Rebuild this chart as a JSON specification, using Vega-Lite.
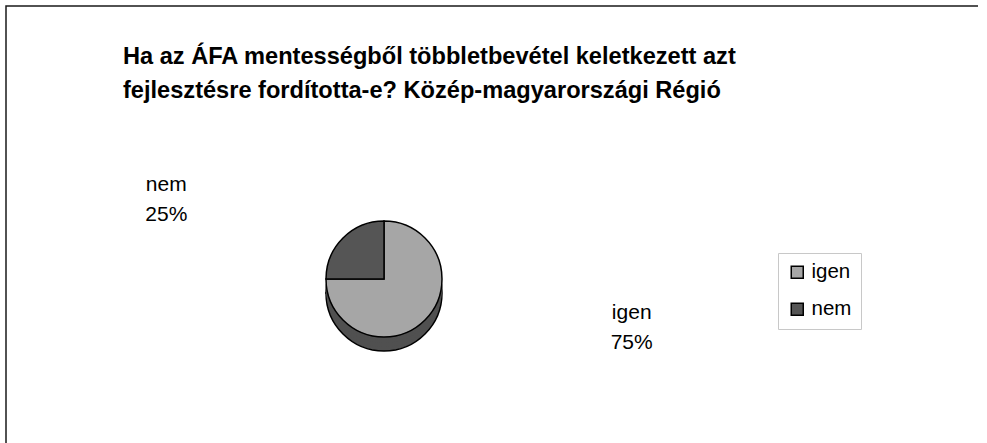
{
  "$schema": "https://vega.github.io/schema/vega-lite/v6.json",
  "autosize": {"type": "pad"},
  "padding": {"left": 5, "top": 5, "right": 10, "bottom": -108},
  "background": "white",
  "title": {
    "text": ["Ha az ÁFA mentességből többletbevétel keletkezett azt", "fejlesztésre fordította-e? Közép-magyarországi Régió"],
    "anchor": "start",
    "frame": "group",
    "align": "left",
    "dx": 117,
    "dy": 97,
    "offset": 0,
    "font": "Liberation Sans",
    "fontSize": 23.6,
    "fontWeight": "bold",
    "lineHeight": 34,
    "color": "#000000"
  },
  "data": {
    "values": [
      {"answer": "igen", "pct": 75, "label": ["igen", "75%"]},
      {"answer": "nem", "pct": 25, "label": ["nem", "25%"]}
    ]
  },
  "spacing": 0,
  "bounds": "flush",
  "hconcat": [
    {
      "width": 756,
      "height": 546,
      "view": {"stroke": "#1a1a1a", "strokeWidth": 1.5, "strokeDash": [756, 1302, 546], "fill": null},
      "layer": [
        {
          "mark": {"type": "arc", "radius": 58, "yOffset": 14, "fill": "#505050", "stroke": "#000000", "strokeWidth": 1.5},
          "encoding": {"theta": {"field": "pct", "type": "quantitative", "stack": true}}
        },
        {
          "mark": {"type": "arc", "radius": 58, "yOffset": 10, "fill": "#505050"},
          "encoding": {"theta": {"field": "pct", "type": "quantitative", "stack": true}}
        },
        {
          "mark": {"type": "arc", "radius": 58, "yOffset": 6, "fill": "#505050"},
          "encoding": {"theta": {"field": "pct", "type": "quantitative", "stack": true}}
        },
        {
          "mark": {"type": "arc", "radius": 58, "yOffset": 3, "fill": "#505050"},
          "encoding": {"theta": {"field": "pct", "type": "quantitative", "stack": true}}
        },
        {
          "mark": {"type": "arc", "radius": 58, "stroke": "#000000", "strokeWidth": 1.5},
          "encoding": {
            "theta": {"field": "pct", "type": "quantitative", "stack": true},
            "color": {
              "field": "answer",
              "type": "nominal",
              "scale": {"domain": ["igen", "nem"], "range": ["#a6a6a6", "#555555"]},
              "legend": {
                "orient": "none",
                "legendX": 772,
                "legendY": 247,
                "title": null,
                "strokeColor": "#c8c8c8",
                "fillColor": "#ffffff",
                "padding": 9,
                "symbolType": "square",
                "symbolSize": 144,
                "symbolStrokeColor": "#000000",
                "symbolStrokeWidth": 1.5,
                "labelFont": "Liberation Sans",
                "labelFontSize": 20.5,
                "labelColor": "#000000",
                "labelOffset": 4,
                "rowPadding": 16
              }
            }
          }
        },
        {
          "mark": {"type": "text", "radius": 100, "dx": -147, "dy": -23, "font": "Liberation Sans", "fontSize": 21, "lineHeight": 30, "color": "#000000", "baseline": "middle", "align": "center"},
          "encoding": {
            "theta": {"field": "pct", "type": "quantitative", "stack": true},
            "text": {"condition": {"test": "datum.answer === 'nem'", "field": "label"}, "value": ""}
          }
        },
        {
          "mark": {"type": "text", "radius": 100, "dx": 177, "dy": -37, "font": "Liberation Sans", "fontSize": 21, "lineHeight": 30, "color": "#000000", "baseline": "middle", "align": "center"},
          "encoding": {
            "theta": {"field": "pct", "type": "quantitative", "stack": true},
            "text": {"condition": {"test": "datum.answer === 'igen'", "field": "label"}, "value": ""}
          }
        }
      ]
    },
    {
      "width": 216,
      "height": 546,
      "view": {"stroke": "#1a1a1a", "strokeWidth": 1.5, "strokeDash": [216, 5000], "fill": null},
      "data": {"values": []},
      "mark": {"type": "point", "opacity": 0},
      "encoding": {}
    }
  ]
}
